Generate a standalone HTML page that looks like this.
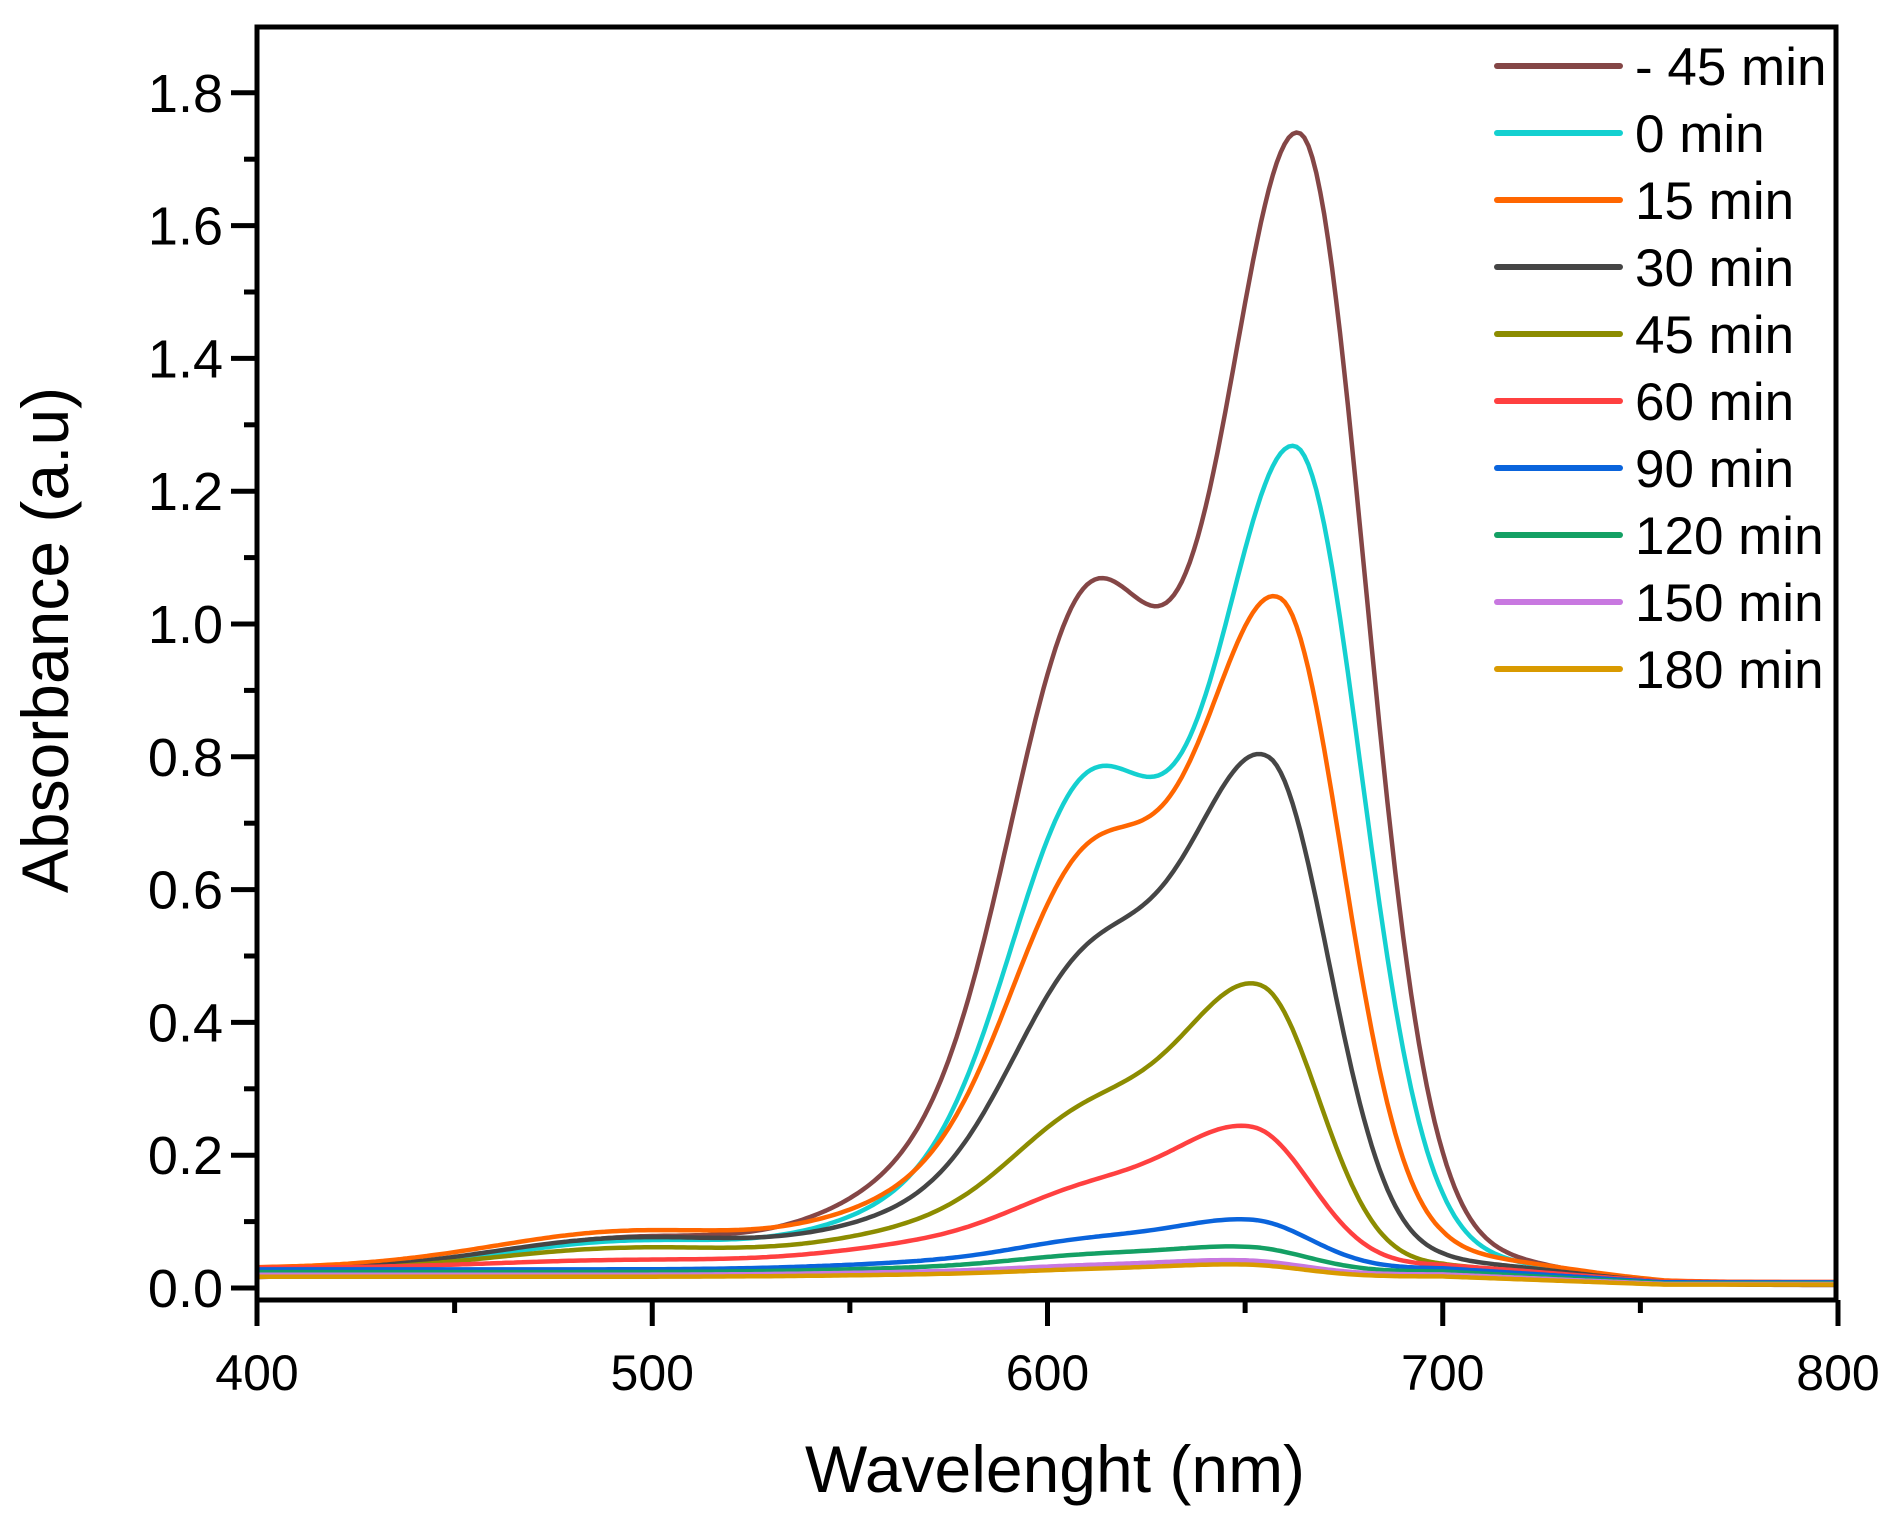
<!DOCTYPE html>
<html><head><meta charset="utf-8"><style>
html,body{margin:0;padding:0;background:#fff}
svg text{font-family:"Liberation Sans",Arial,sans-serif;fill:#000}
</style></head><body>
<svg id="s" width="1903" height="1515" viewBox="0 0 1903 1515" xmlns="http://www.w3.org/2000/svg">
<rect width="1903" height="1515" fill="#fff"/>
<g id="curves" fill="none" stroke-width="4.5" stroke-linejoin="round"></g>
<rect x="257" y="27" width="1579" height="1273" fill="none" stroke="#000" stroke-width="5"/>
<g id="ticks" stroke="#000" stroke-width="5"></g>
<g id="labels"></g>
<text x="1055" y="1492" font-size="66" text-anchor="middle">Wavelenght (nm)</text>
<text transform="translate(68,640) rotate(-90)" font-size="66" text-anchor="middle">Absorbance (a.u)</text>
<g id="legend" font-size="53"></g>
</svg>
<script>
var NS="http://www.w3.org/2000/svg";
function X(l){return 257+(l-400)*3.9525;}
function Y(a){return 1288-a*664;}
function el(t,a,p){var e=document.createElementNS(NS,t);for(var k in a)e.setAttribute(k,a[k]);p.appendChild(e);return e;}
function G(x,c,sl,sr){var s=x<c?sl:sr;var d=x-c;return Math.exp(-d*d/(2*s*s));}
// name,color,Am,cm,Ash,At,Ab,base,sR
var S=[
["- 45 min","#844646",1.69,664,0.93,0.14,0.06,0.015,16.5],
["0 min","#14d0d0",1.22,663,0.67,0.10,0.05,0.02,16.5],
["15 min","#ff6600",0.975,659,0.54,0.10,0.055,0.03,16],
["30 min","#454545",0.74,656,0.40,0.08,0.05,0.025,15.5],
["45 min","#8c8c00",0.41,654,0.19,0.06,0.035,0.025,15],
["60 min","#ff4040",0.2,652,0.09,0.035,0.012,0.03,15],
["90 min","#0a64dc",0.07,652,0.035,0.01,0.0,0.028,15],
["120 min","#14a064",0.035,651,0.02,0.006,0.0,0.024,15],
["150 min","#c878e0",0.02,650,0.01,0.004,0.0,0.02,15],
["180 min","#d99a00",0.017,650,0.008,0.003,0.0,0.017,15]
];
var cg=document.getElementById("curves");
S.forEach(function(s){
 var d="";
 for(var l=400;l<=800;l+=1){
  var a=s[2]*G(l,s[3],20,s[8])+s[4]*G(l,611,20,20)+s[5]*G(l,575,28,30)+s[6]*G(l,495,35,35)+s[7]*(l<700?1:Math.max(0.3,1-(l-700)/80));
  a+=0.02*s[2]*G(l,705,20,25);
  d+=(l==400?"M":"L")+X(l).toFixed(1)+" "+Y(a).toFixed(1);
 }
 el("path",{d:d,stroke:s[1]},cg);
});
var tg=document.getElementById("ticks"),lg=document.getElementById("labels");
for(var l=400;l<=800;l+=50){var maj=l%100==0;el("line",{x1:X(l),x2:X(l),y1:1300,y2:maj?1326:1313},tg);
 if(maj){var t=el("text",{x:X(l),y:1390,"text-anchor":"middle","font-size":50},lg);t.textContent=l;}}
for(var i=0;i<=18;i++){var a=i/10,maj=i%2==0;el("line",{x1:257,x2:maj?231:244,y1:Y(a),y2:Y(a)},tg);
 if(maj){var t=el("text",{x:223,y:Y(a)+19,"text-anchor":"end","font-size":54},lg);t.textContent=a.toFixed(1);}}
var leg=document.getElementById("legend");
S.forEach(function(s,i){var y=66+i*67;
 el("line",{x1:1497,x2:1620,y1:y,y2:y,stroke:s[1],"stroke-width":6,"stroke-linecap":"round"},leg);
 var t=el("text",{x:1635,y:y+19},leg);t.textContent=s[0];});
</script>
</body></html>
